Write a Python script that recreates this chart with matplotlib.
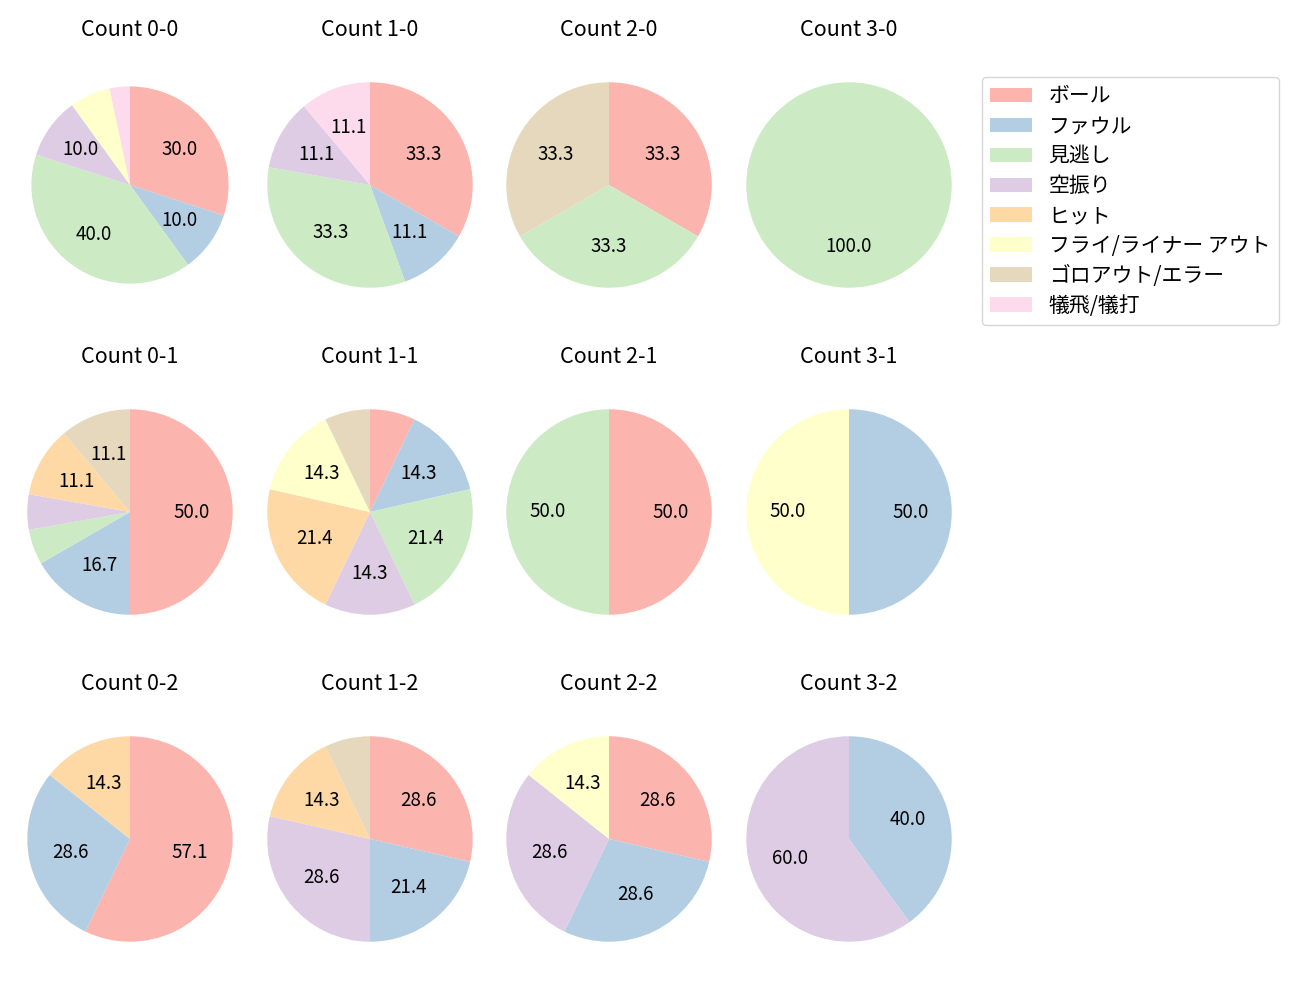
import matplotlib
matplotlib.use('Agg')
import matplotlib.pyplot as plt
from matplotlib.patches import Patch
import numpy as np

plt.rcParams['font.family'] = ['Noto Sans CJK JP', 'DejaVu Sans']

categories = ['ボール', 'ファウル', '見逃し', '空振り', 'ヒット',
              'フライ/ライナー アウト', 'ゴロアウト/エラー', '犠飛/犠打']

# pitch counts per ball-strike count, in category order
counts = {
    '0-0': [9, 3, 12, 3, 0, 2, 0, 1],
    '1-0': [3, 1, 3, 1, 0, 0, 0, 1],
    '2-0': [1, 0, 1, 0, 0, 0, 1, 0],
    '3-0': [0, 0, 1, 0, 0, 0, 0, 0],
    '0-1': [9, 3, 1, 1, 2, 0, 2, 0],
    '1-1': [1, 2, 3, 2, 3, 2, 1, 0],
    '2-1': [1, 0, 1, 0, 0, 0, 0, 0],
    '3-1': [0, 1, 0, 0, 0, 1, 0, 0],
    '0-2': [4, 2, 0, 0, 1, 0, 0, 0],
    '1-2': [4, 3, 0, 4, 2, 0, 1, 0],
    '2-2': [2, 2, 0, 2, 0, 1, 0, 0],
    '3-2': [0, 2, 0, 3, 0, 0, 0, 0],
}

colors = plt.cm.Pastel1(np.arange(8))

W, H = 1300, 1000
fig = plt.figure(figsize=(13, 10), dpi=100)

col_x = [130, 370, 609, 849]
row_y = [185, 512, 839]
size = 226

for strikes in range(3):
    for balls in range(4):
        key = f'{balls}-{strikes}'
        cx, cy = col_x[balls], row_y[strikes]
        ax = fig.add_axes([(cx - size / 2) / W, 1 - (cy + size / 2) / H, size / W, size / H])
        vals = np.array(counts[key], dtype=float)
        r = 0.96 if key == '0-0' else 1.0
        ax.pie(vals, colors=colors, startangle=90, counterclock=False, radius=r,
               autopct=lambda p: f'{p:.1f}' if p >= 10 else '',
               pctdistance=0.62 if r != 1.0 else 0.6,
               textprops={'fontsize': 13.5})
        ax.set_xlim(-1.1, 1.1)
        ax.set_ylim(-1.1, 1.1)
        ax.set_aspect('equal')
        ax.set_title(f'Count {key}', fontsize=15.5, pad=26)

handles = [Patch(facecolor=c) for c in colors]
fig.legend(handles, categories, loc='upper left', bbox_to_anchor=(982 / W, 1 - 77 / H),
           borderaxespad=0, fontsize=15, labelspacing=0.38)

fig.savefig('out.png', dpi=100)
